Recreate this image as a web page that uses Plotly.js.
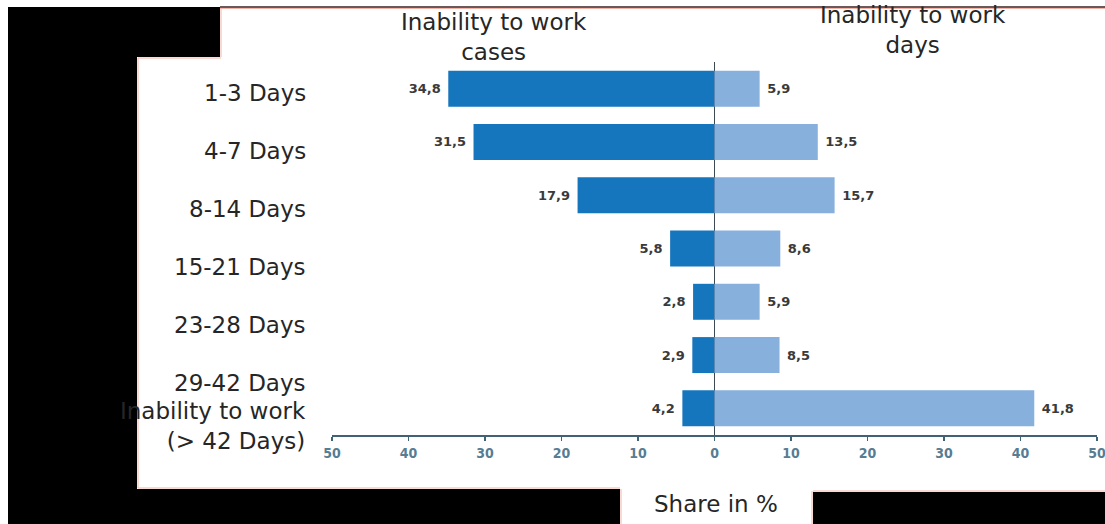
<!DOCTYPE html>
<html>
<head>
<meta charset="utf-8">
<script src="https://cdn.plot.ly/plotly-3.0.1.min.js"></script>
<style>html,body{margin:0;padding:0;background:#fff;}#chart{width:1105px;height:524px;}</style>
</head>
<body>
<div id="chart"></div>
<script>
// ---- data ----
const categories = ["1-3 Days", "4-7 Days", "8-14 Days", "15-21 Days", "23-28 Days", "29-42 Days", "Inability to work<br>(> 42 Days)"];
const casesShare = [34.8, 31.5, 17.9, 5.8, 2.8, 2.9, 4.2];   // Inability to work cases (%)
const daysShare  = [5.9, 13.5, 15.7, 8.6, 5.9, 8.5, 41.8];   // Inability to work days (%)
const tickValues = [-50, -40, -30, -20, -10, 0, 10, 20, 30, 40, 50];
const tickLabels = ["50", "40", "30", "20", "10", "0", "10", "20", "30", "40", "50"];

const fmt = v => v.toFixed(1).replace('.', ',');
const NB = "\u00A0";

// ---- geometry helpers (pixel -> paper) ----
const W = 1105, H = 524;
const M = {l: 332, r: 8, t: 62, b: 89};
const PW = W - M.l - M.r, PH = H - M.t - M.b;
const px = x => (x - M.l) / PW;
const py = y => (H - M.b - y) / PH;

const valueFont = {family: "DejaVu Sans, Open Sans, sans-serif", size: 13, color: "#3a3a3a", weight: 700};

const traces = [
  {
    type: "bar", orientation: "h",
    y: categories, x: casesShare.map(v => -v),
    text: casesShare.map(v => fmt(v) + NB), textposition: "outside", cliponaxis: false,
    textfont: valueFont,
    marker: {color: "#1575bd"},
    hoverinfo: "skip", name: "Inability to work cases"
  },
  {
    type: "bar", orientation: "h",
    y: categories, x: daysShare,
    text: daysShare.map(v => NB + fmt(v)), textposition: "outside", cliponaxis: false,
    textfont: valueFont,
    marker: {color: "#87b0dd"},
    hoverinfo: "skip", name: "Inability to work days"
  }
];

const labelFont = {family: "DejaVu Sans, Liberation Sans, sans-serif", size: 23, color: "#262626"};

const annotations = [];
categories.forEach((c, i) => {
  const shift = i < 6 ? -(4 + 4.7 * i) : -18;
  annotations.push({
    x: px(308), xref: "paper", xanchor: "right",
    y: c, yref: "y", yanchor: "middle", yshift: shift,
    text: c, showarrow: false, align: "right", font: labelFont
  });
});
annotations.push({
  x: px(494), xref: "paper", xanchor: "center",
  y: py(37), yref: "paper", yanchor: "middle",
  text: "Inability to work<br>cases", showarrow: false, font: labelFont
});
annotations.push({
  x: px(913), xref: "paper", xanchor: "center",
  y: py(30), yref: "paper", yanchor: "middle",
  text: "Inability to work<br>days", showarrow: false, font: labelFont
});
annotations.push({
  x: px(716), xref: "paper", xanchor: "center",
  y: py(504), yref: "paper", yanchor: "middle",
  text: "Share in %", showarrow: false, font: labelFont
});

const rect = (x0, y0, x1, y1, color) => ({
  type: "rect", xref: "paper", yref: "paper",
  x0: px(x0), x1: px(x1), y0: py(y1), y1: py(y0),
  fillcolor: color, line: {width: 0}, layer: "below"
});
const seg = (x0, y0, x1, y1, color, w) => ({
  type: "line", xref: "paper", yref: "paper",
  x0: px(x0), x1: px(x1), y0: py(y0), y1: py(y1),
  line: {color: color, width: w}, layer: "below"
});

const shapes = [
  rect(8, 7, 220, 57, "#000"),
  rect(8, 57, 137, 490, "#000"),
  rect(8, 489, 620, 524, "#000"),
  rect(813, 492, 1105, 524, "#000"),
  seg(220, 7, 1105, 7, "#3a2020", 1.5),
  seg(220, 8.5, 1105, 8.5, "#f3b3a6", 1),
  seg(221, 8, 221, 57, "#f3b3a6", 1),
  seg(138, 58, 221, 58, "#f3b3a6", 1),
  seg(138, 58, 138, 488, "#f3b3a6", 1),
  seg(138, 488, 620, 488, "#f3b3a6", 1),
  seg(813, 491, 1105, 491, "#f3b3a6", 1),
  seg(812, 491, 812, 524, "#f3b3a6", 1),
  seg(621, 489, 621, 524, "#f3b3a6", 1)
];

const layout = {
  width: W, height: H,
  margin: M,
  paper_bgcolor: "#ffffff", plot_bgcolor: "rgba(0,0,0,0)",
  barmode: "overlay", bargap: 0.325,
  showlegend: false,
  xaxis: {
    range: [-50, 50], tickvals: tickValues, ticktext: tickLabels,
    showgrid: false, zeroline: true, zerolinecolor: "#3c4852", zerolinewidth: 1.5,
    showline: true, linecolor: "#3f6275", linewidth: 2,
    ticks: "outside", ticklen: 4, tickcolor: "#3f6275", tickwidth: 1.5,
    ticklabeloverflow: "allow",
    tickfont: {family: "DejaVu Sans Condensed, Open Sans, sans-serif", size: 14, color: "#587c92", weight: 600},
    fixedrange: true
  },
  yaxis: {
    autorange: "reversed", showticklabels: false, showgrid: false,
    zeroline: false, showline: false, ticks: "", fixedrange: true
  },
  annotations: annotations,
  shapes: shapes
};

Plotly.newPlot("chart", traces, layout, {displayModeBar: false, staticPlot: true});
</script>
</body>
</html>
